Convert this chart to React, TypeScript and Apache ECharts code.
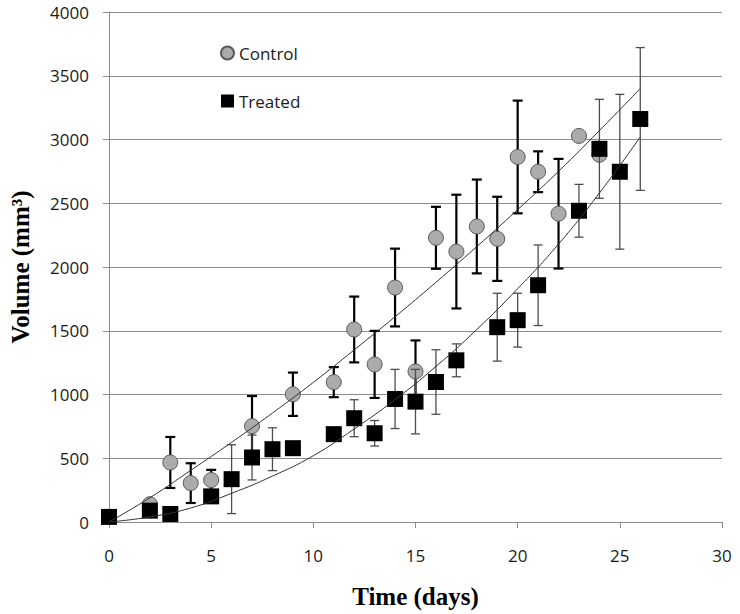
import React, { useEffect, useRef } from "react";
import * as echarts from "echarts";

// Control group (grey circles)
const controlDays = [0, 2, 3, 4, 5, 7, 9, 11, 12, 13, 14, 15, 16, 17, 18, 19, 20, 21, 22, 23, 24];
const controlVolume = [40, 140, 467, 305, 329, 752, 1002, 1097, 1510, 1236, 1839, 1181, 2229, 2121, 2318, 2221, 2863, 2747, 2418, 3028, 2880];
const controlError = [0, 0, 200, 156, 80, 236, 170, 118, 258, 263, 305, 243, 243, 446, 368, 330, 442, 160, 430, 0, 0];

// Treated group (black squares)
const treatedDays = [0, 2, 3, 5, 6, 7, 8, 9, 11, 12, 13, 14, 15, 16, 17, 19, 20, 21, 23, 24, 25, 26];
const treatedVolume = [40, 89, 63, 201, 336, 506, 571, 579, 689, 814, 696, 965, 944, 1098, 1268, 1528, 1583, 1857, 2441, 2927, 2747, 3161];
const treatedError = [0, 0, 0, 0, 270, 176, 168, 0, 0, 145, 100, 232, 253, 253, 129, 266, 211, 316, 207, 388, 607, 560];

// Trend lines
const trendDays = [0, 2, 4, 6, 8, 10, 12, 14, 16, 18, 20, 22, 24, 26];
const controlTrend = [0, 190, 405, 625, 855, 1095, 1350, 1610, 1880, 2160, 2450, 2750, 3070, 3400];
const treatedTrend = [0, 40, 110, 225, 360, 520, 730, 960, 1220, 1510, 1830, 2180, 2580, 3020];

const xTicks = { min: 0, max: 30, interval: 5 };
const yTicks = { min: 0, max: 4000, interval: 500 };

function errData(days: number[], vals: number[], errs: number[]) {
  const out: number[][] = [];
  days.forEach((d, i) => {
    if (errs[i] > 0) out.push([d, vals[i] - errs[i], vals[i] + errs[i]]);
  });
  return out;
}

function errRenderer(color: string, width: number, cap: number) {
  return (params: any, api: any) => {
    const x = api.value(0);
    const lo = api.coord([x, api.value(1)]);
    const hi = api.coord([x, api.value(2)]);
    const h = cap / 2;
    const style = { stroke: color, lineWidth: width, fill: "none" };
    return {
      type: "group",
      children: [
        { type: "line", shape: { x1: hi[0], y1: hi[1], x2: lo[0], y2: lo[1] }, style },
        { type: "line", shape: { x1: hi[0] - h, y1: hi[1], x2: hi[0] + h, y2: hi[1] }, style },
        { type: "line", shape: { x1: lo[0] - h, y1: lo[1], x2: lo[0] + h, y2: lo[1] }, style },
      ],
    };
  };
}

export default function App() {
  const ref = useRef<HTMLDivElement>(null);
  useEffect(() => {
    const chart = echarts.init(ref.current as HTMLDivElement, null, { renderer: "svg" });
    const labelFont = "'Open Sans', 'Liberation Sans', sans-serif";
    const titleFont = "'Liberation Serif', 'Times New Roman', serif";
    chart.setOption({
      animation: false,
      backgroundColor: "#ffffff",
      grid: { left: 107, right: 18, top: 12, bottom: 91, containLabel: false },
      legend: {
        orient: "vertical",
        left: 220,
        top: 43,
        padding: 0,
        itemWidth: 13,
        itemHeight: 13,
        itemGap: 28,
        textStyle: { fontFamily: labelFont, fontSize: 17, color: "#1a1a1a", lineHeight: 20 },
        data: [
          { name: "Control", icon: "circle" },
          { name: "Treated", icon: "rect" },
        ],
      },
      xAxis: {
        type: "value",
        min: xTicks.min,
        max: xTicks.max,
        interval: xTicks.interval,
        name: "Time (days)",
        nameLocation: "middle",
        nameGap: 62,
        nameTextStyle: { fontFamily: titleFont, fontWeight: "bold", fontSize: 25, color: "#000" },
        axisLine: { show: true, lineStyle: { color: "#8c8c8c", width: 1 } },
        axisTick: { show: true, inside: false, length: 6, lineStyle: { color: "#8c8c8c" } },
        axisLabel: {
          margin: 25,
          fontFamily: labelFont,
          fontSize: 17,
          color: "#1a1a1a",
          formatter: (v: number) => String(v),
        },
        splitLine: { show: false },
      },
      yAxis: {
        type: "value",
        min: yTicks.min,
        max: yTicks.max,
        interval: yTicks.interval,
        name: "Volume (mm³)",
        nameLocation: "middle",
        nameRotate: 90,
        nameGap: 76,
        nameTextStyle: { fontFamily: titleFont, fontWeight: "bold", fontSize: 25, color: "#000" },
        axisLine: { show: true, lineStyle: { color: "#8c8c8c", width: 1 } },
        axisTick: { show: true, inside: false, length: 6, lineStyle: { color: "#8c8c8c" } },
        axisLabel: {
          margin: 20,
          fontFamily: labelFont,
          fontSize: 17,
          color: "#1a1a1a",
          formatter: (v: number) => String(v),
        },
        splitLine: { show: true, lineStyle: { color: "#8c8c8c", width: 1 } },
      },
      series: [
        {
          name: "Control error",
          type: "custom",
          z: 1,
          silent: true,
          encode: { x: 0, y: [1, 2] },
          data: errData(controlDays, controlVolume, controlError),
          renderItem: errRenderer("#000000", 2.2, 10),
        },
        {
          name: "Control",
          type: "scatter",
          z: 2,
          symbol: "circle",
          symbolSize: 15,
          itemStyle: { color: "#ababab", borderColor: "#5a5a5a", borderWidth: 1, opacity: 1 },
          data: controlDays.map((d, i) => [d, controlVolume[i]]),
        },
        {
          name: "Treated error",
          type: "custom",
          z: 3,
          silent: true,
          encode: { x: 0, y: [1, 2] },
          data: errData(treatedDays, treatedVolume, treatedError),
          renderItem: errRenderer("#4d4d4d", 1.3, 9),
        },
        {
          name: "Treated",
          type: "scatter",
          z: 4,
          symbol: "rect",
          symbolSize: 16,
          itemStyle: { color: "#000000", opacity: 1 },
          data: treatedDays.map((d, i) => [d, treatedVolume[i]]),
        },
        {
          name: "Control trend",
          type: "line",
          z: 5,
          smooth: true,
          silent: true,
          showSymbol: false,
          symbol: "none",
          lineStyle: { color: "#333333", width: 1 },
          data: trendDays.map((d, i) => [d, controlTrend[i]]),
        },
        {
          name: "Treated trend",
          type: "line",
          z: 5,
          smooth: true,
          silent: true,
          showSymbol: false,
          symbol: "none",
          lineStyle: { color: "#333333", width: 1 },
          data: trendDays.map((d, i) => [d, treatedTrend[i]]),
        },
      ],
    });
    return () => chart.dispose();
  }, []);
  return (
    <div
      ref={ref}
      style={{ position: "absolute", left: 0, top: 0, width: 740, height: 614, background: "#fff" }}
    />
  );
}
